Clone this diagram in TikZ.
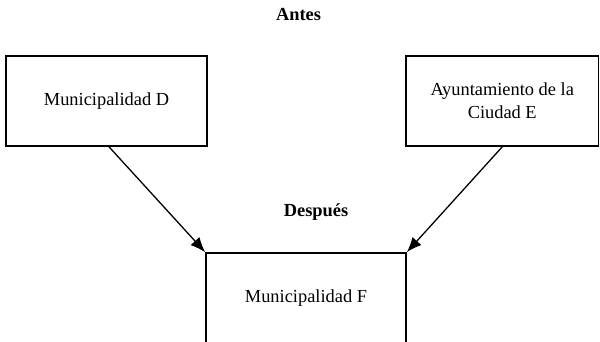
\documentclass[tikz,border=0pt]{standalone}
\usepackage{fontspec}
\setmainfont{Liberation Serif}
\usetikzlibrary{arrows.meta}
\tikzset{
  org/.style={draw,line width=1.6pt,minimum height=90pt,inner sep=2pt,align=center},
  title/.style={anchor=base,font=\fontsize{18.4}{23}\selectfont\bfseries},
  merge/.style={-{Latex[length=15pt,width=12pt]},line width=1.3pt}
}
\begin{document}
\begin{tikzpicture}[x=1pt,y=-1pt,font=\fontsize{18.4}{23}\selectfont]
\clip (0,0) rectangle (600,341);

\node[title](antes) at (298.5,20.7) {Antes};
\node[org,minimum width=201pt](d) at (106.5,101) {Municipalidad D};
\node[org,minimum width=192.5pt](e) at (502.25,101) {Ayuntamiento de la\\Ciudad E};

\node[title](despues) at (316,216) {Después};
\node[org,minimum width=200pt](f) at (306,298) {Municipalidad F};

\draw [merge] (d.south) ++(2.5,0) -- (f.north west) ;
\draw [merge] (e.south) -- (f.north east) ;
\end{tikzpicture}
\end{document}
